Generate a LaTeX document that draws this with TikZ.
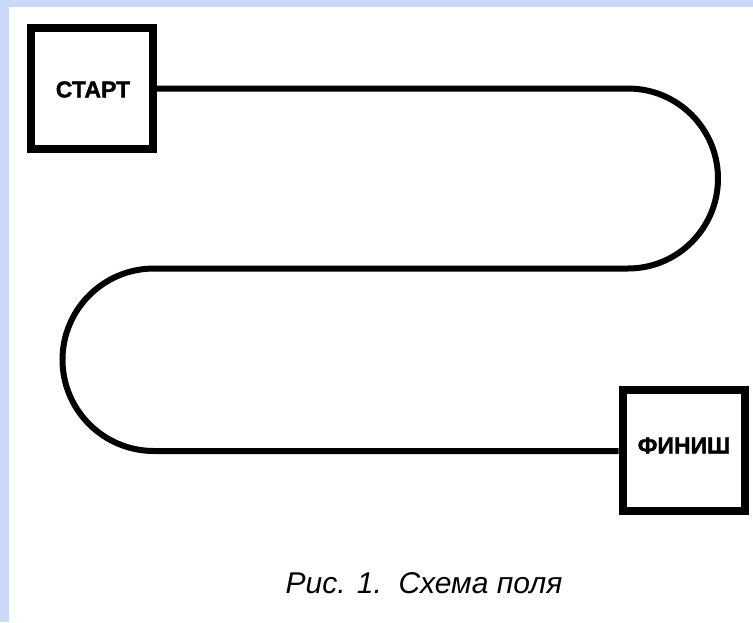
\documentclass[tikz,border=0pt]{standalone}
\usepackage{fontspec}
\setmainfont{Liberation Sans}
\newfontfamily\labelfont[FakeBold=1.5]{Liberation Sans Bold}
\definecolor{frameblue}{RGB}{204,216,248}
\begin{document}
\begin{tikzpicture}[x=1pt,y=-1pt,
  box/.style={draw=black, line width=8pt, minimum width=122pt, minimum height=121pt,
    inner sep=0pt, fill=white},
  boxtext/.style={inner sep=0pt, font=\labelfont\fontsize{23}{26}\selectfont},
  track/.style={draw=black, line width=6pt}]
  % page: bluish frame on the top and left, white field
  \fill[frameblue] (0,0) rectangle (753,622);
  \fill[white] (9,7) rectangle (753,622);
  \useasboundingbox (0,0) rectangle (753,622);

  % start and finish squares
  \node[box] (start) at (92,88.5) {};
  \node[boxtext] (startlbl) at (93,89.5) {СТАРТ};
  \node[box] (finish) at (683.5,450.5) {};
  \node[boxtext] (finishlbl) at (684,445.5) {ФИНИШ};

  % serpentine track between them
  \coordinate (t1) at (628,88.5);
  \coordinate (m2) at (154,268.5);
  \coordinate (b1) at (154,451);
  \draw[track] (start.east |- t1) -- (t1)
    arc[start angle=90, end angle=-90, x radius=90, y radius=-90] -- (m2)
    arc[start angle=90, end angle=270, x radius=91.5, y radius=-91.25] -- (finish.west |- b1);

  % caption
  \node[font=\itshape\fontsize{30}{34}\selectfont] (cap) at (424,583) {Рис. 1.\ \ Схема поля};
\end{tikzpicture}
\end{document}
